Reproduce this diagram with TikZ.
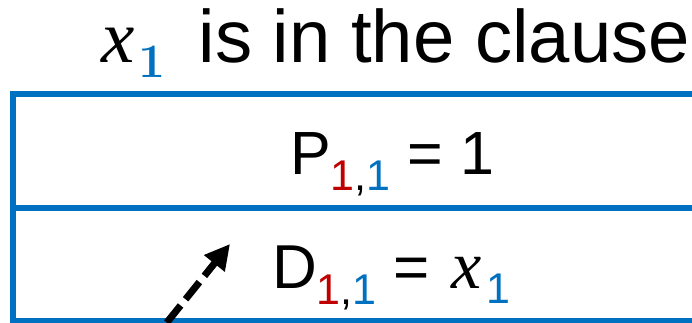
\documentclass[tikz,border=0pt]{standalone}
\usepackage{fontspec}
\usetikzlibrary{arrows.meta}
\newfontfamily\arialf{Liberation Sans}
\newfontfamily\timesf{Liberation Serif}
\definecolor{lineblue}{RGB}{0,112,192}
\definecolor{subred}{RGB}{192,0,0}
\begin{document}
\begin{tikzpicture}[x=1pt,y=-1pt,
  rule/.style={draw=lineblue,line width=5.5pt},
  txt/.style={inner sep=0pt,anchor=base west},
  dasharrow/.style={line width=7pt,dash pattern=on 22pt off 8pt,-{Triangle[length=25pt,width=25pt]}}]
\useasboundingbox (0,0) rectangle (692,323);
\clip (0,0) rectangle (692,323);
\fill[white] (0,0) rectangle (692,323);
\draw[rule] (700,94) -- (13,94) -- (13,320.5) -- (700,320.5);
\draw[rule] (13,208) -- (700,208);
\node[txt] (title) at (101,63) {\timesf\itshape\fontsize{75}{80}\selectfont x\kern4pt\raisebox{-15pt}{\rmfamily\upshape\bfseries\fontsize{48}{48}\selectfont\color{lineblue}1}\hspace{33pt}\arialf\upshape\mdseries\fontsize{74.3}{80}\selectfont is in the clause};
\node[txt] (prow) at (290,174) {\arialf\fontsize{61}{61}\selectfont P\raisebox{-17pt}{\fontsize{43}{43}\selectfont\textcolor{subred}{1},\textcolor{lineblue}{1}} = 1};
\node[txt] (drow) at (272,288) {\arialf\fontsize{62}{62}\selectfont D\raisebox{-16pt}{\fontsize{43}{43}\selectfont\textcolor{subred}{1},\textcolor{lineblue}{1}} = \kern4pt{\timesf\itshape\fontsize{68}{68}\selectfont x}\kern5pt\raisebox{-15pt}{\fontsize{43}{43}\selectfont\color{lineblue}1}};
\coordinate (arrowfoot) at (148,346);
\coordinate (arrowtip) at (230,244);
\draw[dasharrow] (arrowfoot) -- (arrowtip);
\end{tikzpicture}
\end{document}
